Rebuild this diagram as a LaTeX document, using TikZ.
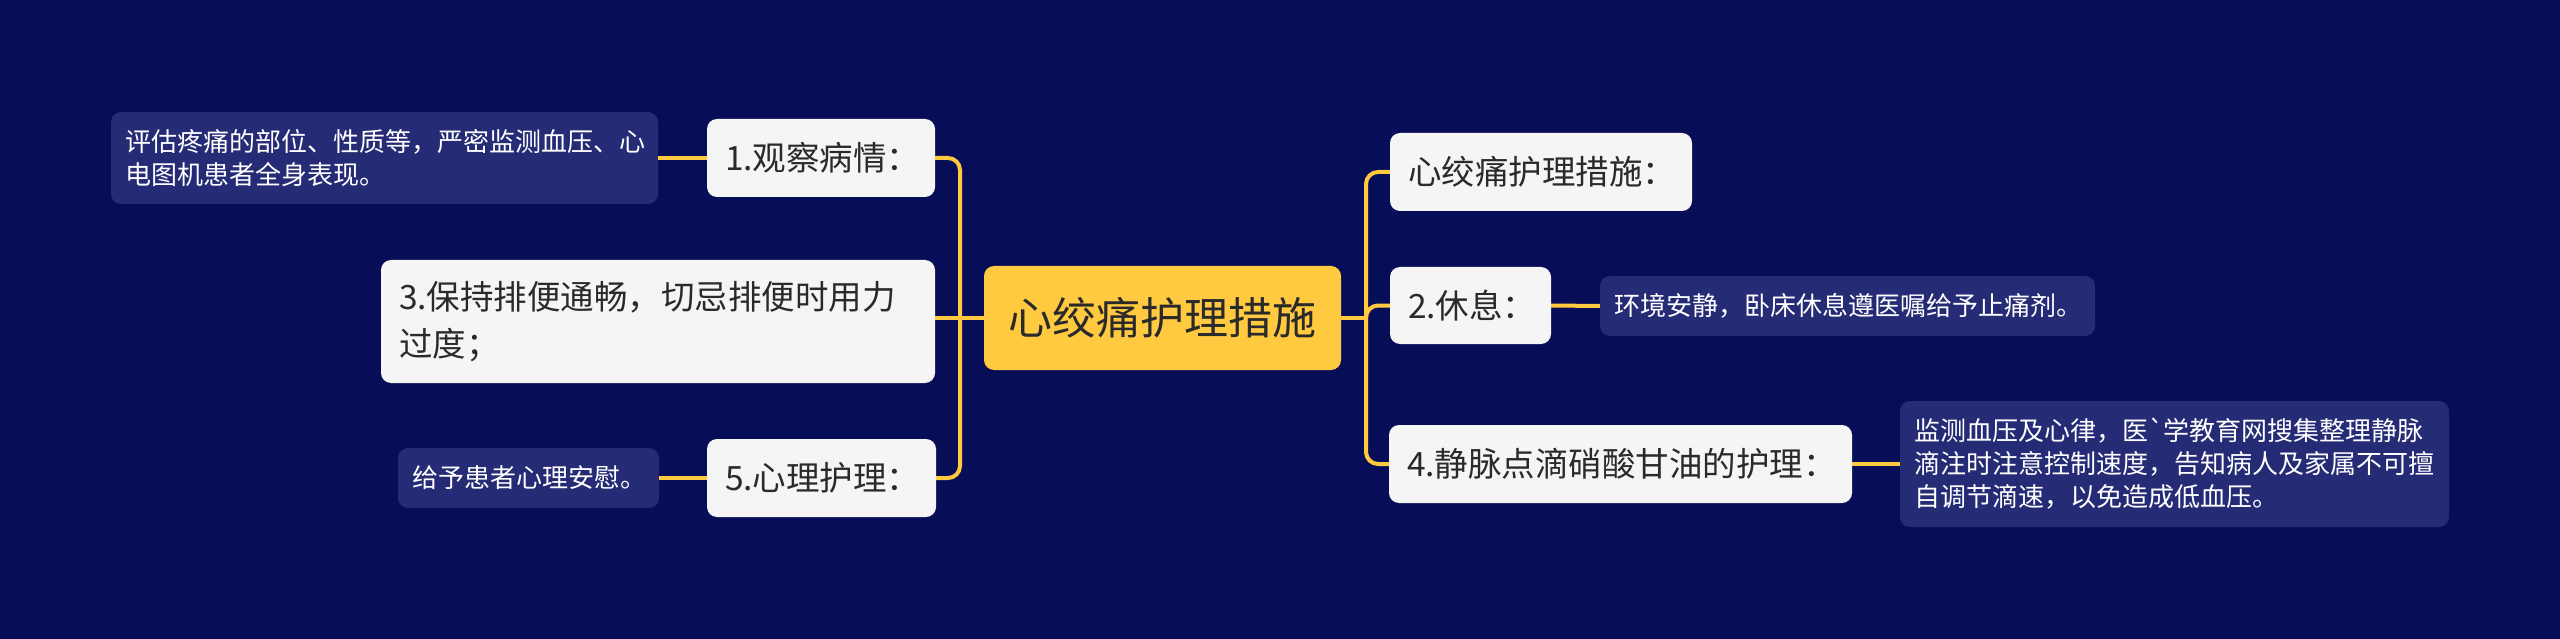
\documentclass[tikz,border=0pt]{standalone}
\usepackage{fontspec}
\newfontfamily\cjk{Noto Sans CJK SC}
\definecolor{bg}{HTML}{080D58}
\definecolor{detbox}{HTML}{262B76}
\definecolor{lightbox}{HTML}{F5F5F5}
\definecolor{darktext}{HTML}{2A2A2A}
\definecolor{gold}{HTML}{FFC940}
\tikzset{
  lvl/.style={fill=lightbox, rounded corners=10pt, text=darktext, font=\cjk\fontsize{33.5}{47}\selectfont, align=left, inner xsep=18pt, inner ysep=0pt},
  det/.style={fill=detbox, rounded corners=10pt, text=white, font=\cjk\fontsize{26}{33}\selectfont, align=left, inner xsep=14pt, inner ysep=0pt},
  rootbox/.style={fill=gold, rounded corners=10pt, text=darktext, font=\cjk\fontsize{44}{52}\selectfont, align=center, inner sep=0pt},
  link/.style={draw=gold, line width=4pt, rounded corners=12pt},
}
\begin{document}
\begin{tikzpicture}[x=1pt,y=-1pt]
\fill[bg] (0,0) rectangle (2560,639);
\useasboundingbox (0,0) rectangle (2560,639);

\node[rootbox, minimum width=357pt, minimum height=104pt] (root) at (1162.5,318) {心绞痛护理措施};

\node[lvl, text width=192pt, minimum height=78pt] (n1) at (821,158) {1.观察病情：};
\node[lvl, text width=518pt, minimum height=123pt] (n3) at (658,321.5) {3.保持排便通畅，切忌排便时用力\\过度；};
\node[lvl, text width=193pt, minimum height=78pt] (n5) at (821.5,478) {5.心理护理：};

\node[det, text width=519pt, minimum height=92pt] (d1) at (384.5,158) {评估疼痛的部位、性质等，严密监测血压、心\\电图机患者全身表现。};
\node[det, text width=233pt, minimum height=60pt] (d5) at (528.5,478) {给予患者心理安慰。};

\node[lvl, text width=266pt, minimum height=78pt] (r1) at (1541,172) {心绞痛护理措施：};
\node[lvl, text width=125pt, minimum height=77pt] (n2) at (1470.5,305.5) {2.休息：};
\node[lvl, text width=427pt, minimum height=78pt] (n4) at (1620.5,464) {4.静脉点滴硝酸甘油的护理：};

\node[det, text width=467pt, minimum height=60pt] (d2) at (1847.5,306) {环境安静，卧床休息遵医嘱给予止痛剂。};
\node[det, text width=521pt, minimum height=126pt] (d4) at (2174.5,464) {监测血压及心律，医`学教育网搜集整理静脉\\滴注时注意控制速度，告知病人及家属不可擅\\自调节滴速，以免造成低血压。};

\coordinate (jl) at (960,318);
\coordinate (jr) at (1366,318);

\draw[link] (root.west) -- (jl);
\draw[link] (jl) -- (jl -| n3.east);
\draw[link] (jl) |- (n1.east);
\draw[link] (jl) |- (n5.east);

\draw[link] (root.east) -- (jr);
\draw[link] (jr) |- (r1.west);
\draw[link] (jr) |- (n2.west);
\draw[link] (jr) |- (n4.west);

\draw[link] (n1.west) -- (d1.east);
\draw[link] (n5.west) -- (d5.east);
\draw[link] (n2.east) -- (d2.west);
\draw[link] (n4.east) -- (d4.west);
\end{tikzpicture}
\end{document}
